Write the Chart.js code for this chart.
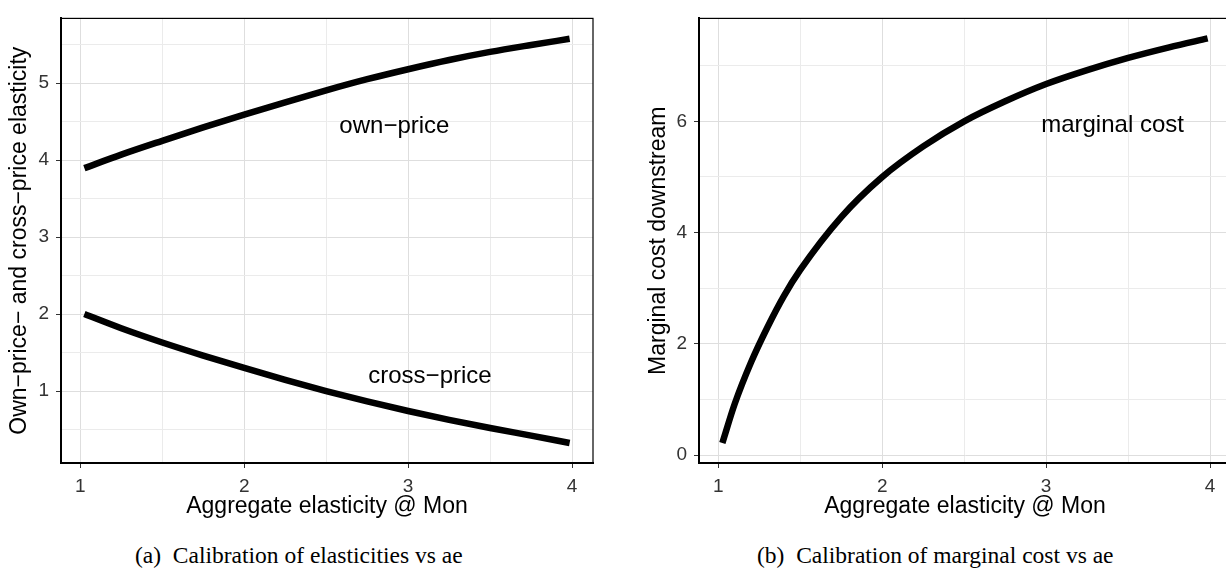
<!DOCTYPE html>
<html>
<head>
<meta charset="utf-8">
<script src="https://cdn.jsdelivr.net/npm/chart.js@4.4.1/dist/chart.umd.min.js"></script>
<style>
  html, body { margin: 0; padding: 0; background: #fff; overflow: hidden; }
  body { width: 1226px; height: 572px; position: relative; }
  .panel { position: absolute; top: 0; height: 530px; }
  #panelA { left: 0; width: 613px; }
  #panelB { left: 620px; width: 620px; }
  .caption {
    position: absolute; top: 544px;
    font-family: "Liberation Serif", "Times New Roman", serif;
    font-size: 23.5px; line-height: 23px; white-space: pre; color: #000;
  }
</style>
</head>
<body>
<div class="panel" id="panelA"><canvas id="chartA"></canvas></div>
<div class="panel" id="panelB"><canvas id="chartB"></canvas></div>
<div class="caption" style="left:135px">(a)  Calibration of elasticities vs ae</div>
<div class="caption" style="left:757px">(b)  Calibration of marginal cost vs ae</div>

<script>
// aggregate elasticity grid and the calibrated series
const aeGrid = [1.025, 1.25, 1.5, 1.75, 2, 2.25, 2.5, 2.75, 3, 3.25, 3.5, 3.75, 3.985];
const ownPrice = [3.895, 4.07, 4.25, 4.425, 4.59, 4.75, 4.905, 5.05, 5.18, 5.3, 5.405, 5.495, 5.575];
const crossPrice = [2.0, 1.815, 1.63, 1.46, 1.3, 1.145, 1.0, 0.865, 0.74, 0.625, 0.52, 0.42, 0.325];

const aeCost = [1.025, 1.1, 1.2, 1.3, 1.4, 1.5, 1.75, 2, 2.25, 2.5, 2.75, 3, 3.25, 3.5, 3.75, 3.985];
const marginalCost = [0.22, 0.92, 1.67, 2.3, 2.86, 3.33, 4.28, 5.0, 5.55, 6.0, 6.36, 6.67, 6.92, 7.14, 7.33, 7.49];

// grid lines (major + minor) and the labelled subset
const aeTicks = [1, 1.5, 2, 2.5, 3, 3.5, 4];
const aeLabels = [1, 2, 3, 4];
const elastTicks = [0.5, 1, 1.5, 2, 2.5, 3, 3.5, 4, 4.5, 5, 5.5];
const elastLabels = [1, 2, 3, 4, 5];
const costTicks = [0, 1, 2, 3, 4, 5, 6, 7];
const costLabels = [0, 2, 4, 6];

// in-panel curve labels
const notesA = [
  { text: "own\u2212price", x: 2.916, y: 4.345 },
  { text: "cross\u2212price", x: 3.133, y: 1.11 },
];
const notesB = [{ text: "marginal cost", x: 3.405, y: 5.8 }];

const FONT = '"Liberation Sans", Arial, Helvetica, sans-serif';

function axis(ticks, labels, min, max, title, size, titlePad) {
  return {
    type: "linear",
    min,
    max,
    afterBuildTicks: (s) => { s.ticks = ticks.map((v) => ({ value: v })); },
    afterFit: (s) => {
      if (s.isHorizontal()) s.height = size;
      else s.width = size;
    },
    ticks: {
      autoSkip: false,
      maxRotation: 0,
      padding: 7,
      color: "#333",
      font: { family: FONT, size: 19 },
      callback: (v) => (labels.includes(v) ? String(v) : ""),
    },
    grid: {
      color: (c) => (labels.includes(c.tick.value) ? "#dedede" : "#ebebeb"),
      lineWidth: 1,
      tickLength: 5,
      tickWidth: 1,
      tickColor: (c) => (labels.includes(c.tick.value) ? "#333" : "rgba(0,0,0,0)"),
    },
    border: { color: "#000", width: 2 },
    title: { display: true, text: title, color: "#000", font: { family: FONT, size: 23 }, padding: titlePad },
  };
}

const frame = {
  id: "frame",
  afterDraw(chart) {
    const { ctx, chartArea: a } = chart;
    ctx.save();
    ctx.strokeStyle = "#000";
    ctx.lineWidth = 1.2;
    ctx.strokeRect(a.left, a.top, a.right - a.left, a.bottom - a.top);
    ctx.restore();
  },
};

function notes(list) {
  return {
    id: "notes",
    afterDatasetsDraw(chart) {
      const { ctx, scales } = chart;
      ctx.save();
      ctx.font = "24px " + FONT;
      ctx.fillStyle = "#000";
      ctx.textAlign = "center";
      ctx.textBaseline = "alphabetic";
      list.forEach((n) => {
        ctx.fillText(n.text, scales.x.getPixelForValue(n.x), scales.y.getPixelForValue(n.y));
      });
      ctx.restore();
    },
  };
}

function series(xs, ys) {
  return {
    data: xs.map((x, i) => ({ x, y: ys[i] })),
    borderColor: "#000",
    borderWidth: 6.5,
    borderCapStyle: "butt",
    cubicInterpolationMode: "monotone",
    pointRadius: 0,
    fill: false,
  };
}

function baseOptions(padRight, xAxis, yAxis) {
  return {
    responsive: true,
    maintainAspectRatio: false,
    animation: false,
    layout: { autoPadding: false, padding: { left: 0, right: padRight, top: 14, bottom: 0 } },
    plugins: { legend: { display: false }, tooltip: { enabled: false } },
    scales: { x: xAxis, y: yAxis },
  };
}

new Chart(document.getElementById("chartA"), {
  type: "line",
  data: { datasets: [series(aeGrid, ownPrice), series(aeGrid, crossPrice)] },
  options: baseOptions(
    20,
    axis(aeTicks, aeLabels, 0.8825, 4.1275, "Aggregate elasticity @ Mon", 67, { top: 0, bottom: 10 }),
    axis(elastTicks, elastLabels, 0.065, 5.84, "Own\u2212price\u2212 and cross\u2212price elasticity", 61, { top: 6, bottom: 0 })
  ),
  plugins: [frame, notes(notesA)],
});

new Chart(document.getElementById("chartB"), {
  type: "line",
  data: { datasets: [series(aeCost, marginalCost)] },
  options: baseOptions(
    9,
    axis(aeTicks, aeLabels, 0.8825, 4.1275, "Aggregate elasticity @ Mon", 67, { top: 0, bottom: 10 }),
    axis(costTicks, costLabels, -0.14, 7.85, "Marginal cost downstream", 79, { top: 25, bottom: 0 })
  ),
  plugins: [frame, notes(notesB)],
});
</script>
</body>
</html>
